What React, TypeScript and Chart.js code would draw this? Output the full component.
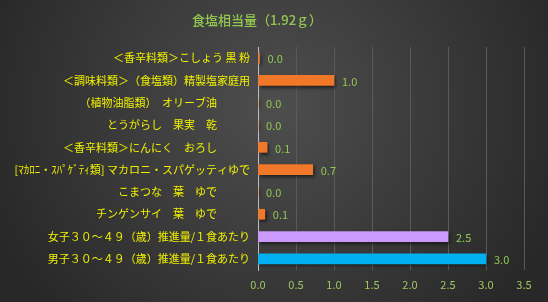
import React, { useEffect, useRef } from "react";
import { Chart, registerables } from "chart.js";

Chart.register(...registerables);

const titleText = "食塩相当量（1.92ｇ）";

const categories = [
  "＜香辛料類＞こしょう 黒 粉",
  "＜調味料類＞（食塩類）精製塩家庭用",
  "（植物油脂類）　オリーブ油　　　",
  "とうがらし　果実　乾　　　",
  "＜香辛料類＞にんにく　おろし　　　",
  "[ﾏｶﾛﾆ・ｽﾊﾟｹﾞﾃｨ類] マカロニ・スパゲッティゆで",
  "こまつな　葉　ゆで　　　",
  "チンゲンサイ　葉　ゆで　　　",
  "女子３０～４９（歳）推進量/１食あたり",
  "男子３０～４９（歳）推進量/１食あたり",
];

const values = [0.02, 1.0, 0, 0, 0.12, 0.72, 0, 0.09, 2.5, 3.0];

const barColors = [
  "#f07828", "#f07828", "#f07828", "#f07828", "#f07828",
  "#f07828", "#f07828", "#f07828", "#cc99ff", "#00b0f0",
];

const xTicks = [0, 0.5, 1, 1.5, 2, 2.5, 3, 3.5];

const FONT = "'Noto Sans CJK JP', 'Noto Sans', sans-serif";

export default function App() {
  const ref = useRef<HTMLCanvasElement | null>(null);

  useEffect(() => {
    document.body.style.margin = "0";
    const canvas = ref.current;
    if (!canvas) return;

    const bgPlugin = {
      id: "bg",
      beforeDraw(chart: any) {
        const ctx = chart.ctx;
        const w = chart.width;
        const h = chart.height;
        ctx.save();
        const g = ctx.createRadialGradient(w / 2, h * 0.35, 0, w / 2, h * 0.35, w * 0.55);
        g.addColorStop(0, "#4e4e4e");
        g.addColorStop(1, "#282828");
        ctx.fillStyle = g;
        ctx.fillRect(0, 0, w, h);
        ctx.restore();
      },
      afterDraw(chart: any) {
        const ctx = chart.ctx;
        ctx.save();
        ctx.font = `500 13px ${FONT}`;
        ctx.fillStyle = "#92c850";
        ctx.textAlign = "center";
        ctx.textBaseline = "middle";
        ctx.fillText(titleText, 257, 20);
        ctx.restore();
      },
    };

    const shadowPlugin = {
      id: "shadow",
      beforeDatasetDraw(chart: any) {
        const ctx = chart.ctx;
        ctx.save();
        ctx.shadowColor = "rgba(0,0,0,0.55)";
        ctx.shadowOffsetX = 2;
        ctx.shadowOffsetY = 2;
        ctx.shadowBlur = 3;
      },
      afterDatasetDraw(chart: any) {
        chart.ctx.restore();
      },
    };

    const labelPlugin = {
      id: "valueLabels",
      afterDatasetsDraw(chart: any) {
        const ctx = chart.ctx;
        const meta = chart.getDatasetMeta(0);
        ctx.save();
        ctx.font = `11px ${FONT}`;
        ctx.fillStyle = "#92c850";
        ctx.textAlign = "left";
        ctx.textBaseline = "middle";
        meta.data.forEach((bar: any, i: number) => {
          ctx.fillText(values[i].toFixed(1), bar.x + 8, bar.y + 1);
        });
        ctx.restore();
      },
    };

    const chart = new Chart(canvas, {
      type: "bar",
      data: {
        labels: categories,
        datasets: [
          {
            data: values,
            backgroundColor: barColors,
            borderWidth: 0,
            barThickness: 10,
          },
        ],
      },
      options: {
        indexAxis: "y",
        animation: false,
        responsive: false,
        maintainAspectRatio: false,
        layout: { padding: { top: 47, right: 24, left: 0, bottom: 0 } },
        plugins: {
          legend: { display: false },
          title: { display: false },
          tooltip: { enabled: false },
        },
        scales: {
          x: {
            min: 0,
            max: 3.5,
            afterBuildTicks(scale: any) {
              scale.ticks = xTicks.map((v) => ({ value: v }));
            },
            afterFit(scale: any) {
              scale.height = 32;
            },
            ticks: {
              color: "#a0c860",
              font: { family: FONT, size: 11 },
              padding: 8,
              callback: (v: any) => Number(v).toFixed(1),
            },
            grid: { color: "#5a5a5a", drawTicks: false, lineWidth: 1 },
            border: { display: false },
          },
          y: {
            afterFit(scale: any) {
              scale.width = 258;
            },
            ticks: {
              color: "#f0f000",
              font: { family: FONT, size: 11 },
              padding: 8,
            },
            grid: { display: false, drawTicks: false },
            border: { display: true, color: "#bdbdbd", width: 1 },
          },
        },
      },
      plugins: [bgPlugin, shadowPlugin, labelPlugin],
    });

    return () => chart.destroy();
  }, []);

  return <canvas ref={ref} width={548} height={302} style={{ display: "block" }} />;
}
